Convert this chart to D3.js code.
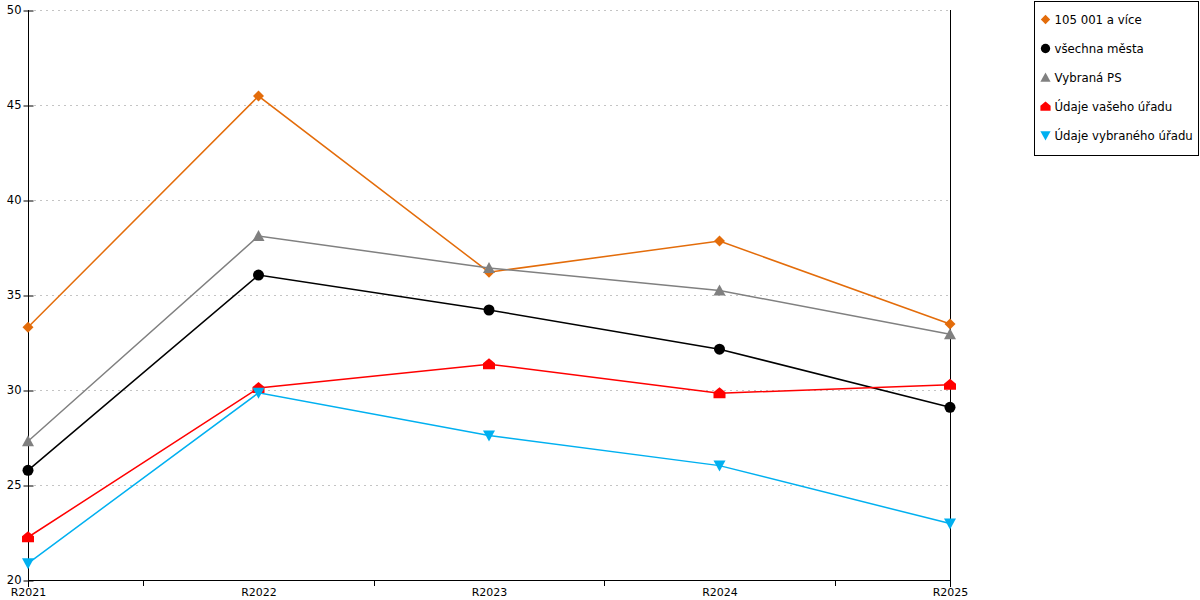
<!DOCTYPE html>
<html>
<head>
<meta charset="utf-8">
<script src="https://cdn.jsdelivr.net/npm/d3@7"></script>
<style>
  body { margin: 0; background: #fff; }
  text { font-family: "DejaVu Sans", Verdana, sans-serif; font-size: 12px; fill: #000; }
</style>
</head>
<body>
<div id="chart-area"></div>
<script>
// Data
var categories = ["R2021", "R2022", "R2023", "R2024", "R2025"];
var seriesNames = ["105 001 a více", "všechna města", "Vybraná PS", "Údaje vašeho úřadu", "Údaje vybraného úřadu"];
var orangeValues = [33.3, 45.47, 36.2, 37.84, 33.47];
var blackValues = [25.77, 36.05, 34.21, 32.15, 29.09];
var grayValues = [27.3, 38.1, 36.42, 35.24, 32.93];
var redValues = [22.25, 30.1, 31.36, 29.83, 30.28];
var cyanValues = [20.88, 29.85, 27.6, 26.02, 22.97];
var yTicks = [20, 25, 30, 35, 40, 45, 50];

var width = 1200, height = 600;
var margin = {top: 10, right: 250, bottom: 20, left: 28};

var svg = d3.select("#chart-area").append("svg").attr("width", width).attr("height", height);
var g = svg.append("g").attr("transform", "translate(" + margin.left + ", " + margin.top + ")");
var w = 922, h = 570;

// Scales
var x = d3.scalePoint().domain(categories).range([0, w]);
var y = d3.scaleLinear().domain([20, 50]).range([h, 0]);

// Grid
g.append("g").selectAll("line").data(yTicks.slice(1)).enter().append("line")
  .attr("x1", 6).attr("x2", w).attr("y1", (d) => y(d) + 0.5).attr("y2", (d) => y(d) + 0.5)
  .attr("stroke", "#c4c4c4").attr("stroke-dasharray", "2,4");

// Axis
var yAxis = g.append("g").attr("transform", "translate(0.5,0)")
  .call(d3.axisLeft(y).tickValues(yTicks).tickSize(5).tickFormat(d3.format("d")));
yAxis.select(".domain").remove();
yAxis.selectAll(".tick line").attr("x2", 5).attr("x1", -5).attr("stroke", "#000");
yAxis.selectAll(".tick line").attr("transform", "translate(0,0.5)");
yAxis.selectAll("text").attr("x", -7).style("font-family", "DejaVu Sans").style("font-size", "11.5px");
g.append("line").attr("x1", 0.5).attr("x2", 0.5).attr("y1", 0).attr("y2", h + 7).attr("stroke", "#000");
g.append("line").attr("x1", w + 0.5).attr("x2", w + 0.5).attr("y1", 0).attr("y2", h + 7).attr("stroke", "#000");

var xAxis = g.append("g").attr("transform", "translate(0," + (h + 0.5) + ")")
  .call(d3.axisBottom(x).tickSize(0).tickPadding(8));
xAxis.select(".domain").attr("d", "M0,0H" + w).attr("stroke", "#000");
xAxis.selectAll("text").style("font-family", "DejaVu Sans").style("font-size", "11px");

// minor ticks between categories
var mids = categories.slice(1).map((c, i) => (x(categories[i]) + x(c)) / 2);
g.append("g").selectAll("line").data(mids).enter().append("line")
  .attr("x1", (d) => Math.round(d) + 0.5).attr("x2", (d) => Math.round(d) + 0.5)
  .attr("y1", h).attr("y2", h + 6).attr("stroke", "#000");

// Series
var series = [
  {name: seriesNames[0], values: orangeValues, color: "#E36C0A", shape: "diamond", lw: 1.5},
  {name: seriesNames[1], values: blackValues, color: "#000000", shape: "circle", lw: 1.5},
  {name: seriesNames[2], values: grayValues, color: "#808080", shape: "triangle", lw: 1.5},
  {name: seriesNames[3], values: redValues, color: "#FF0000", shape: "house", lw: 1.5},
  {name: seriesNames[4], values: cyanValues, color: "#00B0F0", shape: "down", lw: 1.5}
];

function markerPath(shape) {
  if (shape === "diamond") return "M0,-5.5L5.5,0L0,5.5L-5.5,0Z";
  if (shape === "triangle") return "M0,-6L6,5L-6,5Z";
  if (shape === "house") return "M0,-6L6,-1L6,5L-6,5L-6,-1Z";
  if (shape === "down") return "M-6,-5L6,-5L0,6Z";
  return null;
}

function drawMarker(sel, s) {
  if (s.shape === "circle") {
    sel.append("circle").attr("r", 5.5).attr("fill", s.color);
  } else {
    sel.append("path").attr("d", markerPath(s.shape)).attr("fill", s.color);
  }
}

var line = d3.line().x((d, i) => x(categories[i])).y((d) => y(d));

series.forEach((s) => {
  g.append("path").datum(s.values).attr("d", line).attr("fill", "none")
    .attr("stroke", s.color).attr("stroke-width", s.lw);
});
series.forEach((s) => {
  var pts = g.append("g").selectAll("g").data(s.values).enter().append("g")
    .attr("transform", (d, i) => "translate(" + x(categories[i]) + "," + y(d) + ")");
  pts.each(function () { drawMarker(d3.select(this), s); });
});

// Legend
var legend = svg.append("g").attr("transform", "translate(1034.5,1.5)");
legend.append("rect").attr("width", 164).attr("height", 154).attr("fill", "#fff").attr("stroke", "#000");
series.forEach((s, i) => {
  var item = legend.append("g").attr("transform", "translate(0," + (18 + i * 29) + ")");
  var m = item.append("g").attr("transform", "translate(11,0) scale(0.85)");
  drawMarker(m, s);
  item.append("text").attr("x", 20).attr("y", 0).attr("dy", "0.35em")
    .style("font-size", "11.75px").text(s.name);
});
</script>
</body>
</html>
